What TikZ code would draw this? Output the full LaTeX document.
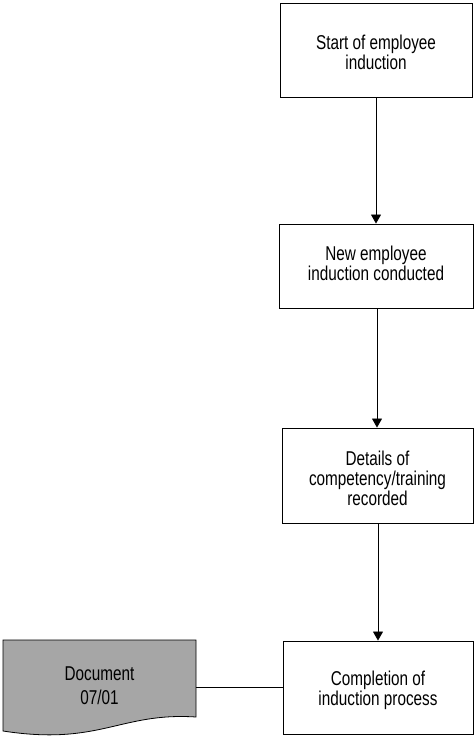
\documentclass[tikz,border=0pt]{standalone}
\usepackage{fontspec}
\setmainfont[FakeStretch=0.765]{Liberation Sans}
\usetikzlibrary{arrows.meta}
\definecolor{docgray}{RGB}{166,166,166}
\begin{document}
\begin{tikzpicture}[x=1pt,y=-1pt,
  every node/.style={font=\fontsize{20}{20}\selectfont, align=center, inner sep=0pt},
  stepbox/.style={draw, line width=0.9pt, minimum width=#1, minimum height=94pt},
  flow/.style={line width=0.8pt, -{Triangle[width=10pt,length=9pt]}},
  link/.style={line width=0.8pt}]
\useasboundingbox (0,0) rectangle (474,736);

% process boxes
\node[stepbox=192pt, minimum height=94pt] (s1) at (376,50) {};
\node[stepbox=194pt, minimum height=84pt] (s2) at (376,266) {};
\node[stepbox=191pt, minimum height=95pt] (s3) at (377.5,475.5) {};
\node[stepbox=190pt, minimum height=93pt] (s4) at (378,687.5) {};

% box captions
\node (t1) at (376,52) {Start of employee\\induction};
\node[font=\fontsize{20}{20.5}\selectfont] (t2) at (376,263.5) {New employee\\induction conducted};
\node (t3) at (377.5,478) {Details of\\competency/training\\recorded};
\node (t4) at (378,690) {Completion of\\induction process};

% document symbol with wavy bottom edge
\filldraw[fill=docgray, line width=0.8pt]
  (3,640) -- (196,640) -- (196,717)
  .. controls (120,712) and (100,746) .. (3,731) -- cycle;
\node[font=\fontsize{20}{23.5}\selectfont] (doc) at (99.5,685.5) {Document\\07/01};
\coordinate (docR) at (196,687.5);

% connectors
\draw[flow] (s1.south -| 376,0) -- (s2.north -| 376,0);
\draw[flow] (s2.south -| 377,0) -- (s3.north -| 377,0);
\draw[flow] (s3.south -| 378,0) -- (s4.north -| 378,0);
\draw[link] (docR) -- (s4.west);
\end{tikzpicture}
\end{document}
